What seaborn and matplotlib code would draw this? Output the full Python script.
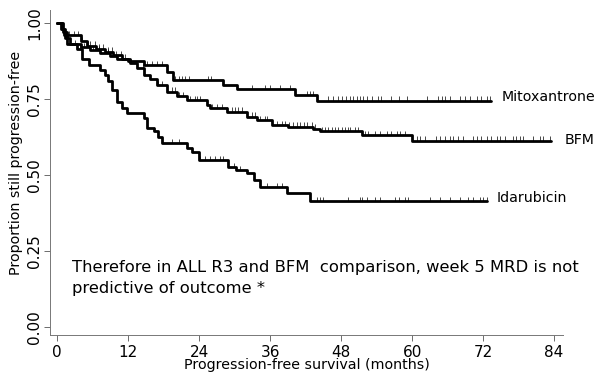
import numpy as np
import pandas as pd
import matplotlib
matplotlib.use("Agg")
import matplotlib.pyplot as plt
import seaborn as sns

# step points (month, proportion after the drop)
mitox_t = [0, 1.0, 1.6, 4.0, 5.5, 7.3, 9.0, 10.1, 12.0, 14.6, 18.5, 19.6, 28.1, 30.4, 40.2, 43.9, 73.4]
mitox_s = [1.0, 0.97, 0.93, 0.92, 0.91, 0.90, 0.89, 0.882, 0.873, 0.862, 0.84, 0.8125, 0.796, 0.782, 0.763, 0.744, 0.744]

bfm_t = [0, 0.6, 1.2, 4.0, 5.0, 6.5, 8.0, 9.5, 11.0, 12.3, 13.5, 14.7, 15.7, 16.8, 18.5, 20.2, 21.9,
         25.3, 25.8, 28.7, 32.0, 33.7, 36.3, 39.0, 43.3, 44.4, 51.5, 59.9, 83.5]
bfm_s = [1.0, 0.98, 0.96, 0.94, 0.925, 0.915, 0.905, 0.895, 0.882, 0.868, 0.85, 0.83, 0.815, 0.796,
         0.774, 0.758, 0.747, 0.73, 0.72, 0.708, 0.692, 0.681, 0.664, 0.659, 0.652, 0.645, 0.632,
         0.613, 0.613]

ida_t = [0, 0.8, 1.3, 2.2, 3.3, 4.2, 5.3, 7.3, 8.0, 8.6, 9.2, 10.1, 11.0, 11.8, 14.6, 15.1, 16.3,
         17.0, 17.7, 22.0, 22.8, 23.9, 28.9, 30.3, 32.0, 33.2, 34.3, 38.9, 42.7, 72.6]
ida_s = [1.0, 0.98, 0.95, 0.93, 0.915, 0.88, 0.86, 0.845, 0.83, 0.81, 0.78, 0.74, 0.72, 0.703, 0.686,
         0.654, 0.643, 0.625, 0.604, 0.59, 0.577, 0.549, 0.527, 0.516, 0.505, 0.484, 0.461, 0.44,
         0.415, 0.415]

# censoring times
mitox_c = [3.0, 4.5, 6.0, 7.0, 8.5, 15.1, 16.0, 16.8, 17.7, 19.9, 20.5, 21.1, 21.6, 22.2, 25.5, 26.0,
           32.9, 35.1, 36.0, 37.7, 39.4, 42.2, 42.7, 43.3, 45.8, 46.7, 47.5, 48.1, 48.9, 49.5, 50.0,
           50.6, 51.2, 51.7, 52.3, 53.2, 54.3, 54.8, 56.5, 57.7, 59.1, 62.5, 64.4, 65.0, 65.5, 66.4,
           68.1, 68.9, 69.8, 70.9, 71.7, 72.6, 73.1]
bfm_c = [1.5, 2.0, 2.8, 3.5, 4.2, 5.2, 5.6, 6.3, 7.0, 7.8, 8.5, 9.3, 10.0, 10.8, 11.5, 12.5, 13.5, 14.5,
         17.1, 17.7, 18.5, 19.4, 19.9, 20.5, 21.3, 21.9, 22.5, 23.3, 23.6, 24.2, 26.1, 27.0, 27.8, 28.7,
         29.5, 30.1, 30.6, 31.2, 32.0, 32.9, 33.4, 34.3, 35.1, 35.4, 36.3, 37.1, 38.0, 38.5, 39.1, 39.9,
         40.5, 41.1, 41.7, 42.2, 43.1, 43.6, 44.7, 45.3, 45.8, 46.4, 46.9, 47.5, 48.1, 48.6, 49.2, 49.5,
         50.3, 50.9, 52.0, 52.6, 53.7, 54.6, 55.7, 56.5, 57.4, 57.9, 58.8, 60.8, 61.3, 62.2, 64.1, 64.7,
         65.5, 66.4, 66.9, 67.8, 68.6, 70.3, 70.9, 71.7, 72.6, 73.4, 74.3, 74.8, 75.7, 77.1, 77.6, 78.2,
         78.7, 80.4, 81.6, 82.1, 83.3]
ida_c = [3.8, 16.3, 19.4, 20.5, 22.8, 24.2, 25.0, 25.8, 26.7, 27.5, 28.1, 29.8, 30.9, 34.3, 35.4, 37.1,
         38.0, 43.9, 44.4, 45.0, 49.2, 51.2, 51.5, 52.3, 53.7, 54.6, 57.1, 57.7, 58.8, 59.3, 63.0, 64.7,
         66.4, 68.1, 69.5, 70.3, 71.5, 72.0, 72.6]

groups = ["Mitoxantrone", "BFM", "Idarubicin"]
times = [mitox_t, bfm_t, ida_t]
survs = [mitox_s, bfm_s, ida_s]
cens = [mitox_c, bfm_c, ida_c]
label_pos = [(75.2, 0.757), (85.8, 0.615), (74.3, 0.424)]

df = pd.concat([pd.DataFrame({"group": g, "month": t, "surv": s})
                for g, t, s in zip(groups, times, survs)], ignore_index=True)

sns.set_style("white")
plt.rcParams["font.family"] = ["DejaVu Sans"]
plt.rcParams["text.color"] = "black"
plt.rcParams["axes.labelcolor"] = "black"
plt.rcParams["xtick.color"] = "black"
plt.rcParams["ytick.color"] = "black"

fig = plt.figure(figsize=(5.97, 3.74), dpi=100)
ax = fig.add_axes([0.084, 0.104, 0.859, 0.87])

sns.lineplot(data=df, x="month", y="surv", units="group", estimator=None,
             drawstyle="steps-post", color="black", linewidth=2.0, ax=ax, legend=False)

for t, s, c in zip(times, survs, cens):
    idx = np.searchsorted(t, c, side="right") - 1
    lvl = np.array(s)[idx]
    ax.vlines(c, lvl, lvl + 0.014, color="black", linewidth=0.5)

for g, (x, y) in zip(groups, label_pos):
    ax.text(x, y, g, fontsize=10.2, va="center", ha="left", clip_on=False)

ax.text(2.5, 0.197, "Therefore in ALL R3 and BFM  comparison, week 5 MRD is not",
        fontsize=11.8, va="center")
ax.text(2.5, 0.128, "predictive of outcome *", fontsize=11.8, va="center")

ax.set_xlim(-1.2, 85.5)
ax.set_ylim(-0.026, 1.043)
ax.set_xticks(np.arange(0, 85, 12))
ax.set_yticks([0, 0.25, 0.5, 0.75, 1.0])
ax.set_yticklabels(["0.00", "0.25", "0.50", "0.75", "1.00"], rotation=90, va="center")
ax.tick_params(axis="both", direction="out", length=4, width=0.6, labelsize=11, pad=3,
               left=True, bottom=True, color="#555555")
ax.tick_params(axis="y", pad=2)
ax.set_xlabel("Progression-free survival (months)", fontsize=10.3, labelpad=-1)
ax.set_ylabel("Proportion still progression-free", fontsize=10.3, labelpad=0)
ax.yaxis.set_label_coords(-0.053, 0.53)
sns.despine(ax=ax)
for sp in ["left", "bottom"]:
    ax.spines[sp].set_color("#777777")
    ax.spines[sp].set_linewidth(0.7)

fig.savefig("out.png", dpi=100)
